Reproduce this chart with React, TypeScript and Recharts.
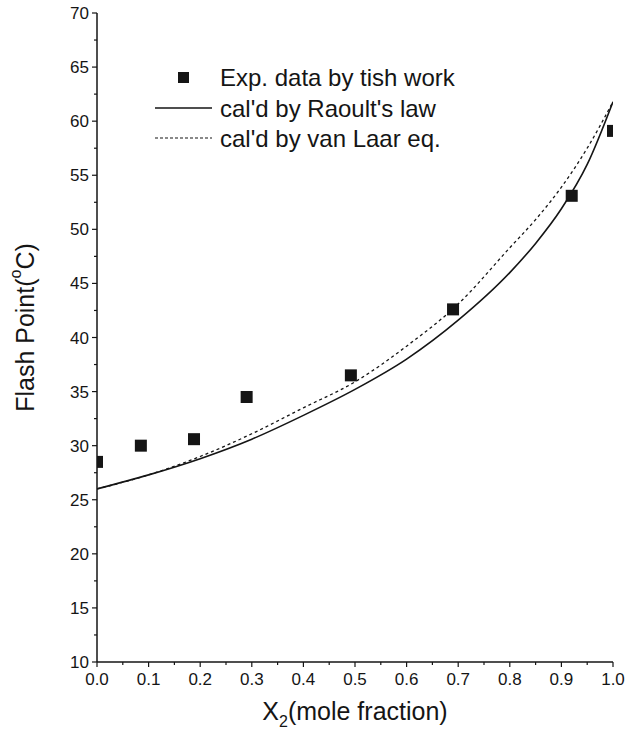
import React from 'react';
import { ComposedChart, Line, Scatter, XAxis, YAxis } from 'recharts';

// experimental points
const expX = [0.0, 0.085, 0.188, 0.29, 0.492, 0.69, 0.92, 1.0];
const expY = [28.5, 30.0, 30.6, 34.5, 36.5, 42.6, 53.1, 59.1];

// calculated curves
const calcX = [0.0, 0.1, 0.2, 0.3, 0.4, 0.5, 0.6, 0.7, 0.8, 0.85, 0.9, 0.95, 1.0];
const raoultY = [26.0, 27.3, 28.8, 30.6, 32.8, 35.2, 38.0, 41.6, 46.0, 48.7, 51.9, 56.0, 61.8];
const vanLaarY = [26.0, 27.3, 29.0, 31.1, 33.5, 35.9, 39.2, 43.1, 48.3, 50.9, 53.9, 57.5, 61.8];

const xTicks = [0, 0.05, 0.1, 0.15, 0.2, 0.25, 0.3, 0.35, 0.4, 0.45, 0.5, 0.55, 0.6, 0.65, 0.7, 0.75, 0.8, 0.85, 0.9, 0.95, 1.0];
const yTicks = [10, 12.5, 15, 17.5, 20, 22.5, 25, 27.5, 30, 32.5, 35, 37.5, 40, 42.5, 45, 47.5, 50, 52.5, 55, 57.5, 60, 62.5, 65, 67.5, 70];

const legendLabels = ["Exp. data by tish work", "cal'd by Raoult's law", "cal'd by van Laar eq."];

const expData = expX.map((x, i) => ({ x, y: expY[i] }));
const raoultData = calcX.map((x, i) => ({ x, y: raoultY[i] }));
const vanLaarData = calcX.map((x, i) => ({ x, y: vanLaarY[i] }));

const FONT = '"Liberation Sans", Arial, Helvetica, sans-serif';
const INK = '#151515';

const isMajorX = (v: number) => Math.abs(v * 10 - Math.round(v * 10)) < 1e-6;
const isMajorY = (v: number) => Math.abs(v / 5 - Math.round(v / 5)) < 1e-6;

const BottomTick = (props: any) => {
  const { x, y, payload } = props;
  const major = isMajorX(payload.value);
  return (
    <g>
      <line x1={x} x2={x} y1={y} y2={y + (major ? 5 : 3)} stroke={INK} strokeWidth={1.2} />
      {major && (
        <text x={x} y={y + 23} textAnchor="middle" fontSize={17} fontFamily={FONT} fill={INK}>
          {payload.value.toFixed(1)}
        </text>
      )}
    </g>
  );
};

const TopTick = (props: any) => {
  const { x, y } = props;
  return <line x1={x} x2={x} y1={y} y2={y + 4} stroke={INK} strokeWidth={1.2} />;
};

const LeftTick = (props: any) => {
  const { x, y, payload } = props;
  const major = isMajorY(payload.value);
  return (
    <g>
      <line x1={x} x2={x - (major ? 5 : 3)} y1={y} y2={y} stroke={INK} strokeWidth={1.2} />
      {major && (
        <text x={x - 8} y={y + 6} textAnchor="end" fontSize={17} fontFamily={FONT} fill={INK}>
          {payload.value}
        </text>
      )}
    </g>
  );
};

const RightTick = (props: any) => {
  const { x, y } = props;
  return <line x1={x} x2={x - 5} y1={y} y2={y} stroke={INK} strokeWidth={1.2} />;
};

const SquareDot = (props: any) => {
  const { cx, cy } = props;
  return <rect x={cx - 6} y={cy - 6} width={12} height={12} fill={INK} />;
};

const YTitle = (props: any) => {
  const { viewBox } = props;
  const cx = viewBox.x + 25;
  const cy = viewBox.y + viewBox.height / 2 - 10;
  return (
    <text x={cx} y={cy} transform={`rotate(-90 ${cx} ${cy})`} textAnchor="middle" dominantBaseline="central" fontSize={25} fontFamily={FONT} fill={INK}>
      Flash Point(<tspan fontSize={16} dy={-10}>o</tspan><tspan dy={10}>C)</tspan>
    </text>
  );
};

const XTitle = (props: any) => {
  const { viewBox } = props;
  return (
    <text x={viewBox.x + viewBox.width / 2} y={viewBox.y + 58} textAnchor="middle" fontSize={25} fontFamily={FONT} fill={INK}>
      X<tspan fontSize={16} dy={7}>2</tspan><tspan dy={-7}>(mole fraction)</tspan>
    </text>
  );
};

const LegendBox = () => (
  <svg width={627} height={731} style={{ position: 'absolute', left: 0, top: 0, pointerEvents: 'none' }}>
    <rect x={178} y={72} width={11} height={11} fill={INK} />
    <line x1={155} x2={212} y1={108} y2={108} stroke={INK} strokeWidth={1.6} />
    <line x1={155} x2={212} y1={138} y2={138} stroke={INK} strokeWidth={1.2} strokeDasharray="3 2" />
    {legendLabels.map((t, i) => (
      <text key={t} x={220} y={86 + i * 30.5} fontSize={24} fontFamily={FONT} fill={INK}>
        {t}
      </text>
    ))}
  </svg>
);

export default function App() {
  return (
    <div style={{ position: 'absolute', left: 0, top: 0, width: 627, height: 731, background: '#fff' }}>
      <ComposedChart width={627} height={731} margin={{ top: 13, right: 14, bottom: 0, left: 0 }}>
        <XAxis
          dataKey="x"
          type="number"
          domain={[0, 1]}
          ticks={xTicks}
          allowDataOverflow
          interval={0}
          height={69}
          tickSize={0}
          tickMargin={0}
          tickLine={false}
          tick={<BottomTick />}
          axisLine={{ stroke: INK, strokeWidth: 1.5 }}
          label={<XTitle />}
        />
        <XAxis
          xAxisId="top"
          orientation="top"
          dataKey="x"
          type="number"
          domain={[0, 1]}
          ticks={xTicks}
          interval={0}
          height={0}
          tickSize={0}
          tickMargin={0}
          tickLine={false}
          tick={<TopTick />}
          axisLine={{ stroke: INK, strokeWidth: 1.5 }}
        />
        <YAxis
          type="number"
          domain={[10, 70]}
          ticks={yTicks}
          allowDataOverflow
          interval={0}
          width={97}
          tickSize={0}
          tickMargin={0}
          tickLine={false}
          tick={<LeftTick />}
          axisLine={{ stroke: INK, strokeWidth: 1.5 }}
          label={<YTitle />}
        />
        <YAxis
          yAxisId="right"
          orientation="right"
          type="number"
          domain={[10, 70]}
          ticks={yTicks}
          interval={0}
          width={0}
          tickSize={0}
          tickMargin={0}
          tickLine={false}
          tick={<RightTick />}
          axisLine={{ stroke: INK, strokeWidth: 1.5 }}
        />
        <Line data={raoultData} dataKey="y" type="monotone" stroke={INK} strokeWidth={1.6} dot={false} isAnimationActive={false} />
        <Line data={vanLaarData} dataKey="y" type="monotone" stroke={INK} strokeWidth={1.3} strokeDasharray="3 3" dot={false} isAnimationActive={false} />
        <Scatter data={expData} dataKey="y" shape={<SquareDot />} isAnimationActive={false} />
      </ComposedChart>
      <LegendBox />
    </div>
  );
}
